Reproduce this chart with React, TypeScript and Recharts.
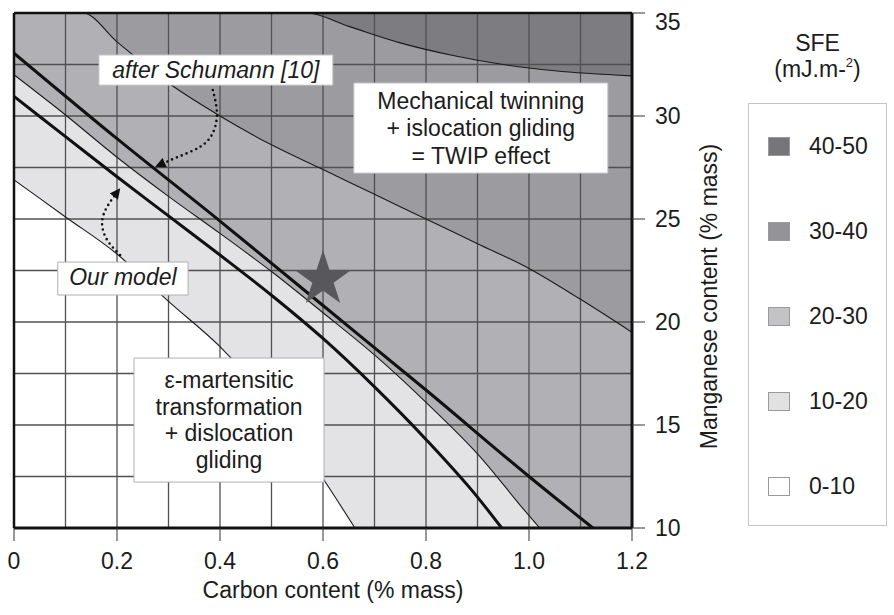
import React from 'react'
import {
  ComposedChart, Area, Line, Scatter, XAxis, YAxis, ZAxis,
  CartesianGrid, ReferenceLine, ReferenceArea,
} from 'recharts'

const FONT = '"Liberation Sans", Arial, Helvetica, sans-serif'

// axes
const carbonDomain = [0, 1.2]
const mnDomain = [10, 35]
const carbonTicks = [0, 0.2, 0.4, 0.6, 0.8, 1.0, 1.2]
const carbonTickLabels = ['0', '0.2', '0.4', '0.6', '0.8', '1.0', '1.2']
const mnTicks = [10, 15, 20, 25, 30, 35]
const gridCarbon = [0.1, 0.2, 0.3, 0.4, 0.5, 0.6, 0.7, 0.8, 0.9, 1.0, 1.1]
const gridMn = [12.5, 15, 17.5, 20, 22.5, 25, 27.5, 30, 32.5]

// SFE iso-lines (Mn % vs C %)
const carbon10 = [0, 0.1, 0.2, 0.3, 0.4, 0.5, 0.6, 0.662]
const mn10 = [26.9, 25.1, 23.3, 21.0, 18.8, 16.0, 12.4, 10]
const carbon20 = [0, 0.1, 0.2, 0.3, 0.4, 0.5, 0.6, 0.7, 0.8, 0.9, 1.0, 1.021]
const mn20 = [32.0, 30.05, 28.0, 26.1, 24.3, 22.45, 20.45, 18.4, 16.1, 13.6, 10.6, 10]
const carbon30 = [0, 0.134, 0.2, 0.3, 0.4, 0.5, 0.6, 0.7, 0.8, 0.9, 1.0, 1.1, 1.2]
const mn30 = [35, 35, 33.6, 31.6, 30.0, 28.6, 27.4, 26.2, 25.0, 23.8, 22.6, 21.1, 19.5]
const carbon40 = [0, 0.569, 0.65, 0.75, 0.85, 0.95, 1.05, 1.2]
const mn40 = [35, 35, 34.35, 33.55, 32.95, 32.5, 32.2, 31.95]

// TWIP / TRIP transition lines
const carbonOurs = [0, 0.1, 0.2, 0.3, 0.4, 0.5, 0.6, 0.7, 0.8, 0.9, 0.947]
const mnOurs = [30.95, 29.0, 27.05, 25.15, 23.25, 21.3, 19.2, 16.85, 14.3, 11.5, 10]
const carbonSchumann = [0, 0.2, 0.4, 0.6, 0.8, 1.0, 1.124]
const mnSchumann = [33.05, 28.9, 24.9, 20.8, 16.7, 12.5, 10]

// dotted pointer arrows
const arrowSchumannC = [0.386, 0.394, 0.386, 0.361, 0.317, 0.276]
const arrowSchumannMn = [31.26, 30.15, 29.17, 28.5, 28.0, 27.55]
const arrowOursC = [0.206, 0.181, 0.171, 0.181, 0.205]
const arrowOursMn = [23.25, 23.98, 24.8, 25.6, 26.45]

// studied steel
const starC = [0.6]
const starMn = [22.07]

// legend
const sfeBands = ['40-50', '30-40', '20-30', '10-20', '0-10']
const bandFill = ['#7d7d81', '#9c9ca0', '#b1b1b5', '#e3e3e5', '#ffffff']
const swatchFill = ['#76767a', '#949498', '#c3c3c5', '#e1e1e1', '#ffffff']

const pts = (xs: number[], ys: number[]) => xs.map((x, i) => ({ x, y: ys[i] }))

const line10 = pts(carbon10, mn10)
const line20 = pts(carbon20, mn20)
const line30 = pts(carbon30, mn30)
const line40 = pts(carbon40, mn40)
const lineOurs = pts(carbonOurs, mnOurs)
const lineSchumann = pts(carbonSchumann, mnSchumann)
const arrowSchumann = pts(arrowSchumannC, arrowSchumannMn)
const arrowOurs = pts(arrowOursC, arrowOursMn)
const starData = pts(starC, starMn)

const boxLabel = (lines: string[], italic: boolean, lh: number, dy = 0) => (props: any) => {
  const vb = props.viewBox
  if (!vb) return null
  const cx = vb.x + vb.width / 2
  const y0 = vb.y + vb.height / 2 + dy - ((lines.length - 1) * lh) / 2
  return (
    <text textAnchor="middle" fontSize={23} fontFamily={FONT} fill="#1c1c1c" fontStyle={italic ? 'italic' : 'normal'}>
      {lines.map((t, i) => (
        <tspan key={i} x={cx} y={y0 + i * lh} dy="0.35em">{t}</tspan>
      ))}
    </text>
  )
}

const xTitle = (props: any) => {
  const vb = props.viewBox
  if (!vb) return null
  return (
    <text x={vb.x + vb.width / 2 + 10} y={vb.y + vb.height} textAnchor="middle" fontSize={23} fontFamily={FONT} fill="#1c1c1c">
      Carbon content (% mass)
    </text>
  )
}

const yTitle = (props: any) => {
  const vb = props.viewBox
  if (!vb) return null
  const cx = vb.x + vb.width / 2 + 1
  const cy = vb.y + vb.height / 2 + 26
  return (
    <text x={cx} y={cy} dy="0.35em" textAnchor="middle" fontSize={23} fontFamily={FONT} fill="#1c1c1c" transform={`rotate(-90, ${cx}, ${cy})`}>
      Manganese content (% mass)
    </text>
  )
}

// the top label sits a little below its tick in the original
const MnTick = (props: any) => {
  const { x, y, payload } = props
  const shift = payload.value === mnDomain[1] ? 9 : 0
  return (
    <text x={x} y={y + shift} dy="0.355em" textAnchor="start" fontSize={23} fontFamily={FONT} fill="#1c1c1c">
      {payload.value}
    </text>
  )
}

const tickStyle = { fontSize: 23, fill: '#1c1c1c', fontFamily: FONT }

export default function App() {
  return (
    <div style={{ position: 'absolute', left: 0, top: 0, width: 894, height: 615, background: '#fff', fontFamily: FONT }}>
      <ComposedChart width={894} height={615} margin={{ top: 13, left: 14, right: 110, bottom: 17 }}>
        <defs>
          <marker id="sfeArrow" viewBox="0 0 10 10" refX="9" refY="5" markerWidth="4.2" markerHeight="4" orient="auto">
            <path d="M0,0 L10,5 L0,10 z" fill="#111" />
          </marker>
        </defs>
        <CartesianGrid horizontal={false} vertical={false} fill={bandFill[0]} fillOpacity={1} />
        <XAxis
          dataKey="x" type="number" domain={carbonDomain} ticks={carbonTicks} interval={0} allowDataOverflow
          height={70} tickSize={13} tickMargin={12} tick={tickStyle}
          tickFormatter={(v: number) => carbonTickLabels[carbonTicks.indexOf(v)] ?? String(v)}
          axisLine={{ stroke: '#111', strokeWidth: 3 }} tickLine={{ stroke: '#333', strokeWidth: 1 }}
          label={{ content: xTitle }}
        />
        <YAxis
          dataKey="y" type="number" orientation="right" domain={mnDomain} ticks={mnTicks} interval={0} allowDataOverflow
          width={152} tickSize={13} tickMargin={10} tick={<MnTick />}
          axisLine={{ stroke: '#111', strokeWidth: 3 }} tickLine={{ stroke: '#333', strokeWidth: 1 }}
          label={{ content: yTitle }}
        />
        <ZAxis range={[964, 964]} />

        <Area data={line40} dataKey="y" type="monotone" fill={bandFill[1]} fillOpacity={1} stroke="none" isAnimationActive={false} zIndex={100} />
        <Area data={line30} dataKey="y" type="monotone" fill={bandFill[2]} fillOpacity={1} stroke="none" isAnimationActive={false} zIndex={100} />
        <Area data={line20} dataKey="y" type="monotone" fill={bandFill[3]} fillOpacity={1} stroke="none" isAnimationActive={false} zIndex={100} />
        <Area data={line10} dataKey="y" type="monotone" fill={bandFill[4]} fillOpacity={1} stroke="none" isAnimationActive={false} zIndex={100} />

        {gridCarbon.map((c) => (
          <ReferenceLine key={'gx' + c} x={c} stroke="#505050" strokeWidth={1.3} zIndex={150} />
        ))}
        {gridMn.map((m) => (
          <ReferenceLine key={'gy' + m} y={m} stroke="#505050" strokeWidth={1.3} zIndex={150} />
        ))}

        {[line10, line20, line30, line40].map((d, i) => (
          <Line key={'iso' + i} data={d} dataKey="y" type="monotone" stroke="#1a1a1a" strokeWidth={1.1} dot={false} activeDot={false} isAnimationActive={false} zIndex={400} />
        ))}
        <Line data={lineOurs} dataKey="y" type="monotone" stroke="#111" strokeWidth={3} dot={false} activeDot={false} isAnimationActive={false} zIndex={410} />
        <Line data={lineSchumann} dataKey="y" type="monotone" stroke="#111" strokeWidth={3} dot={false} activeDot={false} isAnimationActive={false} zIndex={410} />

        <ReferenceArea x1={0.165} x2={0.619} y1={31.5} y2={32.96} fill="#fff" fillOpacity={1} stroke="#c8c8c8" strokeWidth={1} zIndex={450}
          label={{ content: boxLabel(['after Schumann [10]'], true, 27) }} />
        <ReferenceArea x1={0.085} x2={0.338} y1={21.31} y2={22.91} fill="#fff" fillOpacity={1} stroke="#b0b0b0" strokeWidth={1} zIndex={450}
          label={{ content: boxLabel(['Our model'], true, 27, -2) }} />
        <ReferenceArea x1={0.66} x2={1.153} y1={27.23} y2={31.6} fill="#fff" fillOpacity={1} stroke="#c8c8c8" strokeWidth={1} zIndex={450}
          label={{ content: boxLabel(['Mechanical twinning', '+ islocation gliding', '= TWIP effect'], false, 27.5) }} />
        <ReferenceArea x1={0.233} x2={0.602} y1={12.23} y2={18.25} fill="#fff" fillOpacity={1} stroke="#b0b0b0" strokeWidth={1} zIndex={450}
          label={{ content: boxLabel(['ε-martensitic', 'transformation', '+ dislocation', 'gliding'], false, 26.7) }} />

        {[arrowSchumann, arrowOurs].map((d, i) => (
          <Line key={'arr' + i} data={d} dataKey="y" type="natural" stroke="#111" strokeWidth={2.6} strokeDasharray="0 5.2" strokeLinecap="round"
            markerEnd="url(#sfeArrow)" dot={false} activeDot={false} isAnimationActive={false} zIndex={460} />
        ))}

        <Scatter data={starData} dataKey="y" shape="star" fill="#58585c" isAnimationActive={false} zIndex={600} />

        <ReferenceLine y={mnDomain[1]} stroke="#111" strokeWidth={2.5} zIndex={650} />
        <ReferenceLine x={carbonDomain[0]} stroke="#111" strokeWidth={2.5} zIndex={650} />
      </ComposedChart>

      <div style={{ position: 'absolute', left: 748, top: 30, width: 139, textAlign: 'center', fontSize: 23, lineHeight: '26px', color: '#1c1c1c' }}>
        <div>SFE</div>
        <div>(mJ.m-<sup style={{ fontSize: 13, verticalAlign: 'top', lineHeight: '14px' }}>2</sup>)</div>
      </div>
      <div style={{ position: 'absolute', left: 748, top: 103, width: 139, height: 423, border: '1px solid #c4c4c4', boxSizing: 'border-box' }}>
        {sfeBands.map((b, i) => (
          <div key={b} style={{ position: 'absolute', left: 0, top: 42 + i * 85 - 13, height: 26, display: 'flex', alignItems: 'center' }}>
            <div style={{ marginLeft: 19, width: 22, height: 19, background: swatchFill[i], border: '1px solid #9a9a9a', boxSizing: 'border-box' }} />
            <span style={{ marginLeft: 19, fontSize: 23, color: '#1c1c1c' }}>{b}</span>
          </div>
        ))}
      </div>
    </div>
  )
}
